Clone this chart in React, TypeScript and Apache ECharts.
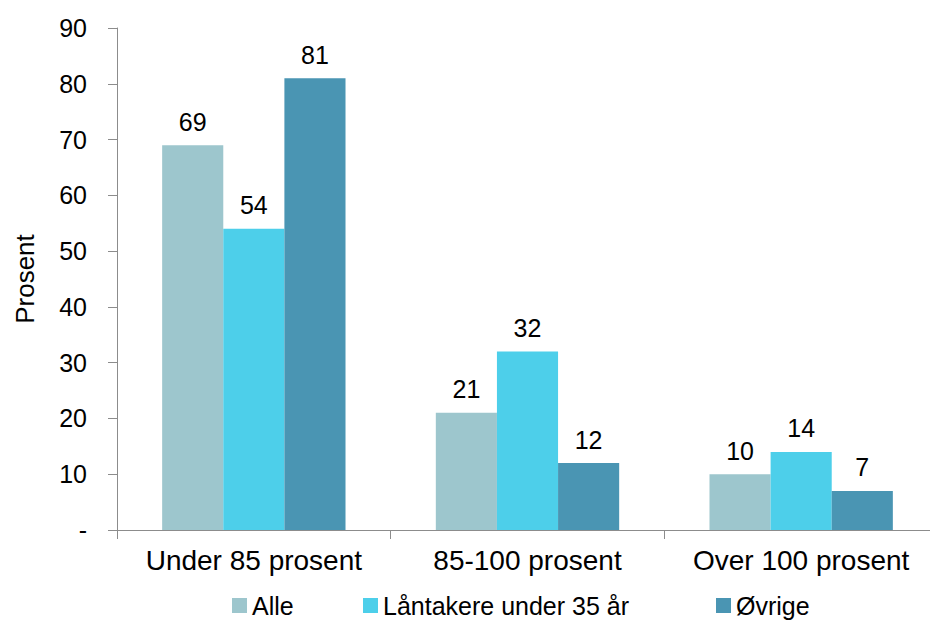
import React, { useEffect, useRef } from "react";
import * as echarts from "echarts";

const categories = ["Under 85 prosent", "85-100 prosent", "Over 100 prosent"];
const seriesNames = ["Alle", "Låntakere under 35 år", "Øvrige"];
const alle = [69, 21, 10];
const laantakere = [54, 32, 14];
const ovrige = [81, 12, 7];
const colors = ["#9DC6CD", "#4DCFEA", "#4A95B3"];
const yTicks = [0, 10, 20, 30, 40, 50, 60, 70, 80, 90];

export default function App() {
  const ref = useRef<HTMLDivElement>(null);
  useEffect(() => {
    document.body.style.margin = "0";
    document.body.style.overflow = "hidden";
    const chart = echarts.init(ref.current!, null, { renderer: "svg" });
    const font = "Liberation Sans, Arial, sans-serif";
    const values = [alle, laantakere, ovrige];
    const legendLefts = [232, 363, 716];
    chart.setOption({
      animation: false,
      textStyle: { fontFamily: font },
      grid: { left: 117, right: 0, top: 28, bottom: 91, containLabel: false },
      legend: seriesNames.map((n, i) => ({
        data: [n],
        left: legendLefts[i],
        top: 593,
        padding: 0,
        itemWidth: 15,
        itemHeight: 15,
        itemGap: 5,
        icon: "rect",
        textStyle: { fontSize: 25, lineHeight: 25, color: "#000", fontFamily: font },
      })),
      xAxis: {
        type: "category",
        data: categories,
        axisLine: { lineStyle: { color: "#8c8c8c", width: 1 } },
        axisTick: { show: true, length: 9, lineStyle: { color: "#8c8c8c" } },
        axisLabel: { interval: 0, fontSize: 28, color: "#000", margin: 16, fontFamily: font },
      },
      yAxis: {
        type: "value",
        min: yTicks[0],
        max: yTicks[yTicks.length - 1],
        interval: 10,
        name: "Prosent",
        nameLocation: "middle",
        nameGap: 79,
        nameRotate: 90,
        nameTextStyle: { fontSize: 26, color: "#000", fontFamily: font },
        splitLine: { show: false },
        axisLine: { show: true, lineStyle: { color: "#8c8c8c", width: 1 } },
        axisTick: { show: true, length: 9, lineStyle: { color: "#8c8c8c" } },
        axisLabel: {
          fontSize: 25,
          color: "#000",
          margin: 30,
          fontFamily: font,
          formatter: (v: number) => (v === 0 ? "-" : String(v)),
        },
      },
      series: seriesNames.map((n, i) => ({
        name: n,
        type: "bar",
        data: values[i],
        barGap: "0%",
        barCategoryGap: "33%",
        itemStyle: { color: colors[i] },
        label: {
          show: true,
          position: "top",
          distance: 11,
          fontSize: 25,
          color: "#000",
          fontFamily: font,
        },
      })),
    });
    return () => chart.dispose();
  }, []);
  return (
    <div style={{ width: 930, height: 621, overflow: "hidden" }}>
      <div ref={ref} style={{ width: 938, height: 621 }} />
    </div>
  );
}
